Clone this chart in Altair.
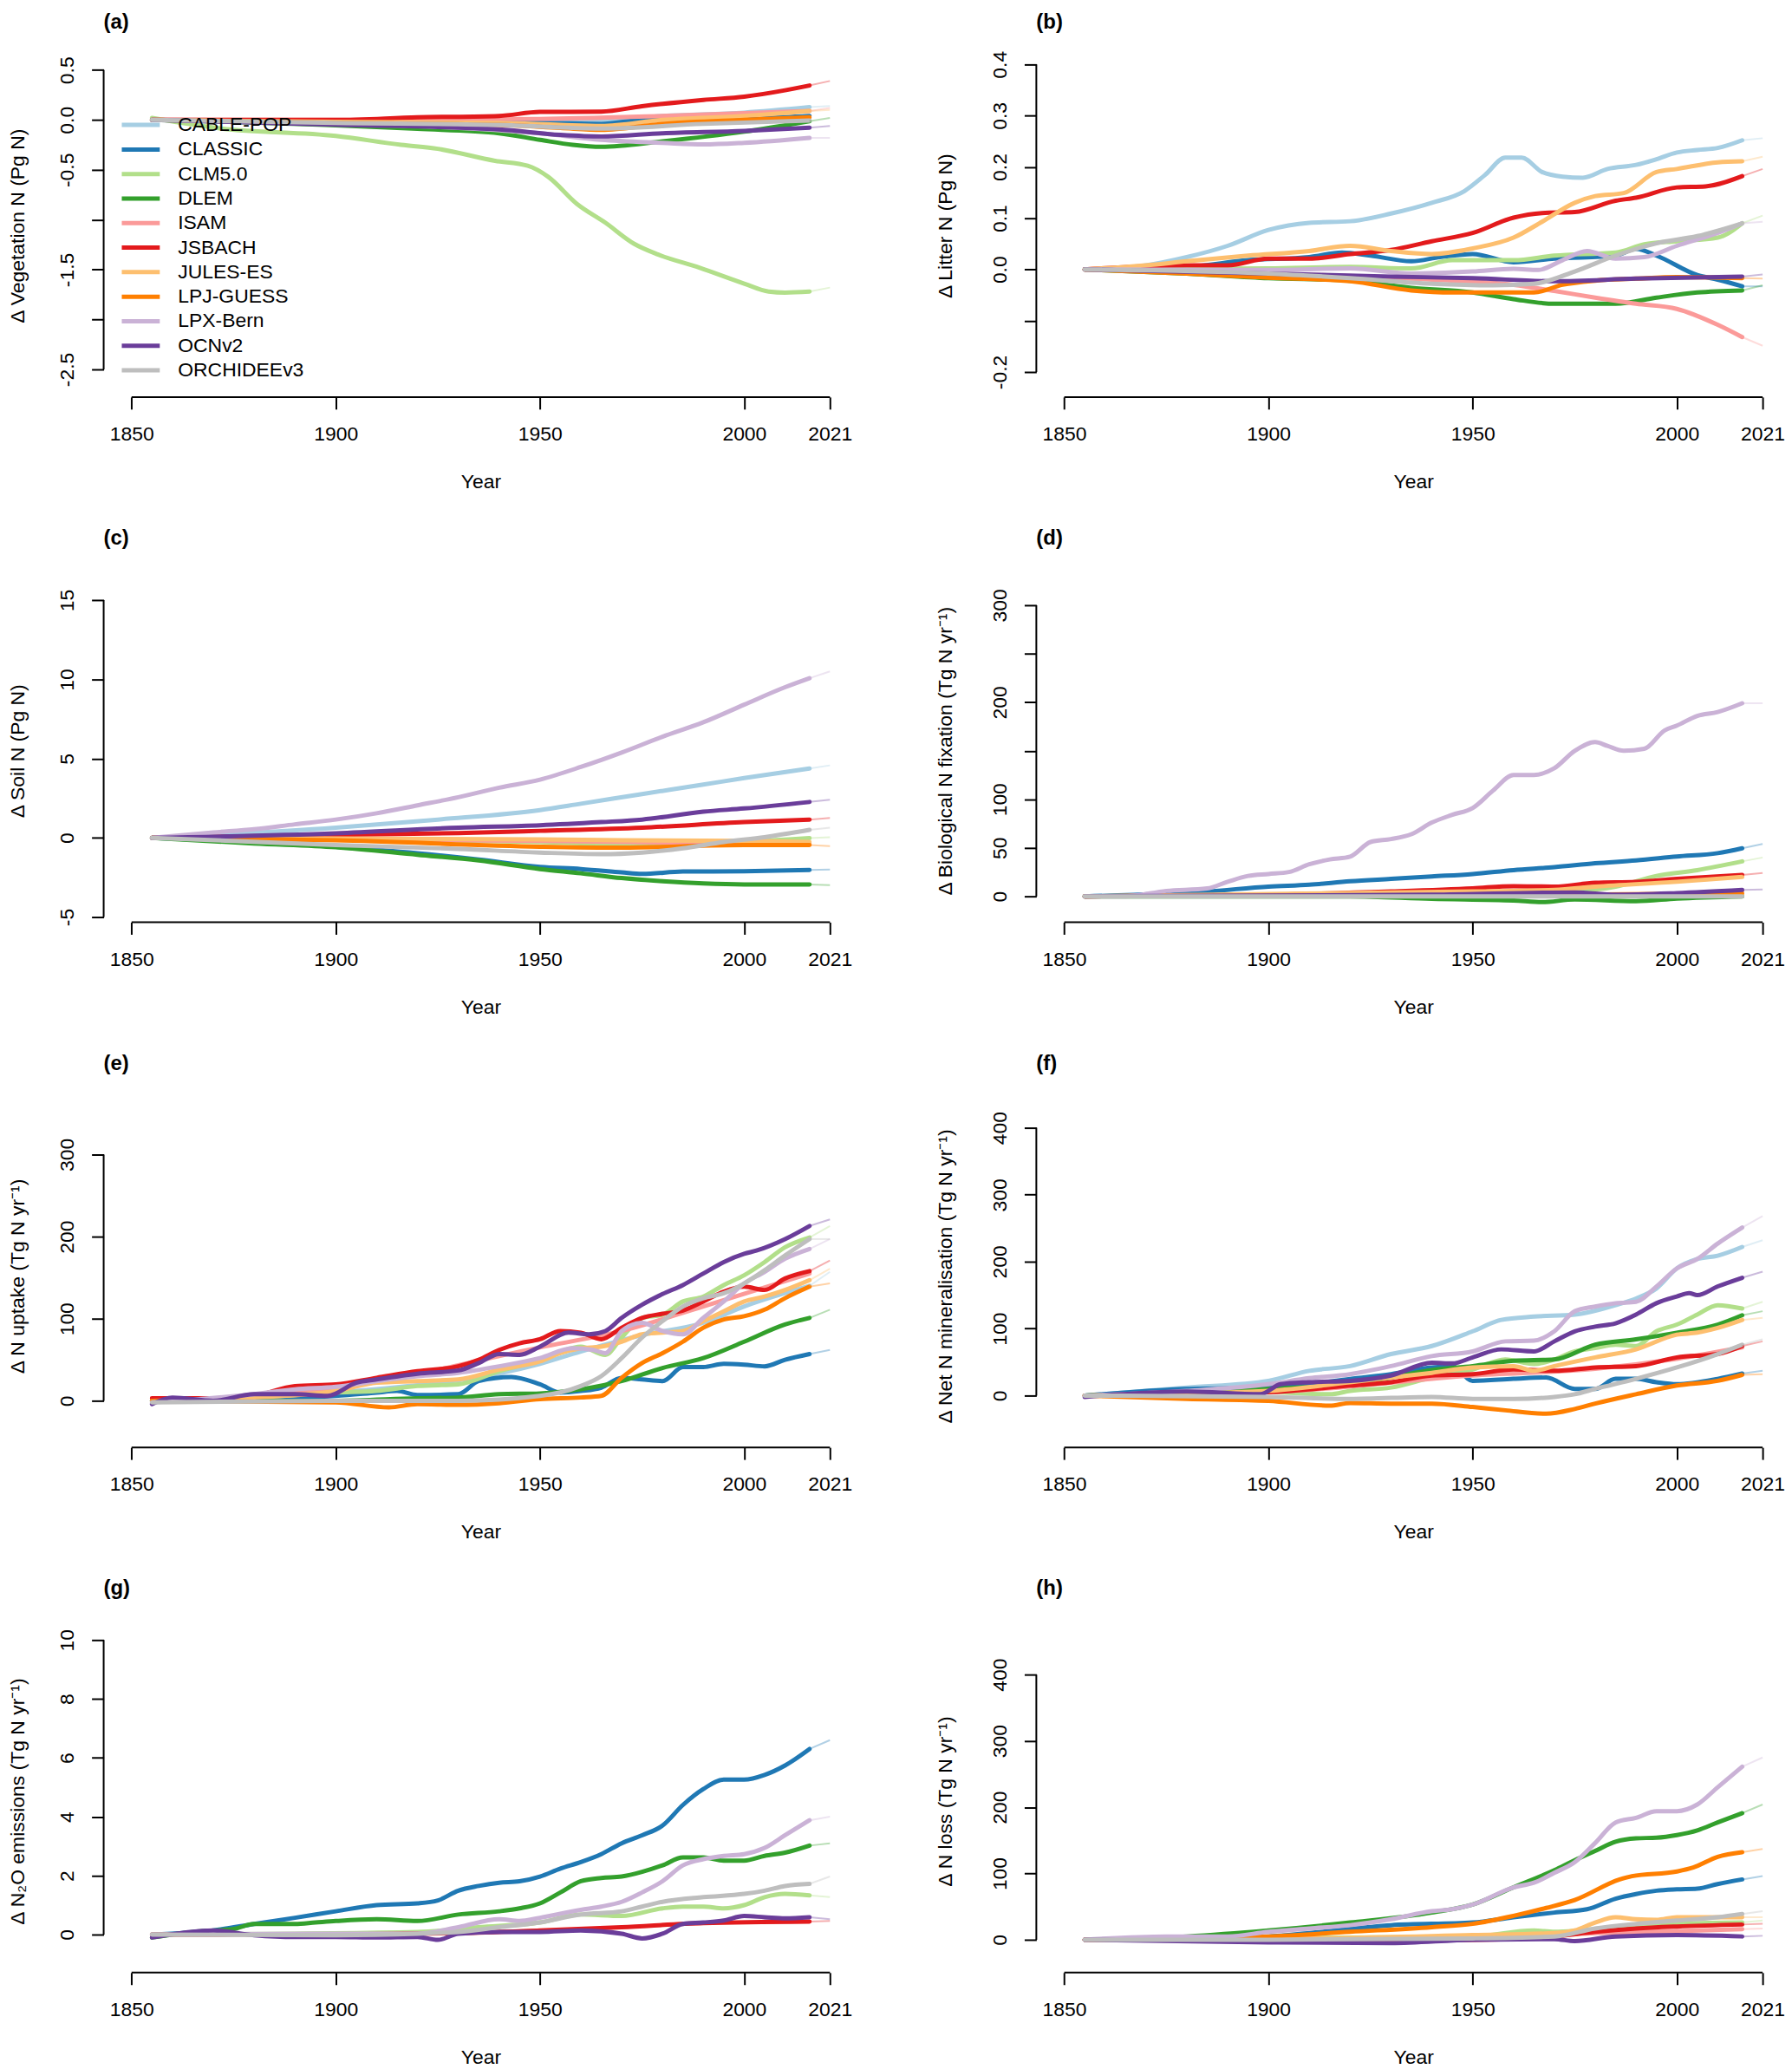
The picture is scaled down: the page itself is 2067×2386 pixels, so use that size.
import altair as alt
import pandas as pd

FONT = "Liberation Sans, Arial, Helvetica, sans-serif"

MODELS = ["CABLE-POP", "CLASSIC", "CLM5.0", "DLEM", "ISAM", "JSBACH",
          "JULES-ES", "LPJ-GUESS", "LPX-Bern", "OCNv2", "ORCHIDEEv3"]
COLORS = ["#A6CEE3", "#1F78B4", "#B2DF8A", "#33A02C", "#FB9A99", "#E31A1C",
          "#FDBF6F", "#FF7F00", "#CAB2D6", "#6A3D9A", "#BEBEBE"]

X_TICKS = [1850, 1900, 1950, 2000, 2021]

# ---------------- (a) Vegetation N (Pg N) ----------------
VEG_N = {
    "CABLE-POP": [(1855, 0), (1900, -0.01), (1930, -0.01), (1950, -0.01), (1965, -0.006), (1980, 0.04), (2000, 0.073), (2016, 0.128)],
    "CLASSIC": [(1855, 0), (1900, -0.02), (1930, -0.03), (1950, -0.03), (1965, -0.04), (1975, 0.0), (1990, 0.01), (2005, 0.02), (2016, 0.04)],
    "CLM5.0": [(1855, 0.02), (1872, -0.086), (1900, -0.16), (1916, -0.25), (1925, -0.29), (1939, -0.41), (1947, -0.46), (1952, -0.57), (1959, -0.84), (1966, -1.03), (1973, -1.24), (1979, -1.35), (1989, -1.48), (2000, -1.64), (2006, -1.72), (2010, -1.73), (2016, -1.72)],
    "DLEM": [(1855, 0), (1900, -0.054), (1920, -0.09), (1940, -0.134), (1950, -0.2), (1958, -0.25), (1965, -0.27), (1980, -0.214), (2000, -0.118), (2016, -0.013)],
    "ISAM": [(1855, 0), (1900, 0), (1950, 0.01), (1980, 0.04), (2016, 0.09)],
    "JSBACH": [(1855, 0), (1900, 0), (1920, 0.026), (1940, 0.04), (1950, 0.08), (1965, 0.083), (1975, 0.137), (1990, 0.2), (2000, 0.233), (2010, 0.297), (2016, 0.345)],
    "JULES-ES": [(1855, 0), (1900, -0.02), (1940, -0.03), (1955, -0.05), (1965, -0.06), (1980, 0.0), (2000, 0.04), (2016, 0.09)],
    "LPJ-GUESS": [(1855, 0), (1900, -0.03), (1940, -0.05), (1955, -0.08), (1965, -0.1), (1980, -0.04), (2000, 0.0), (2016, 0.026)],
    "LPX-Bern": [(1855, 0), (1900, -0.04), (1930, -0.08), (1950, -0.134), (1965, -0.2), (1980, -0.23), (1990, -0.246), (2000, -0.23), (2016, -0.18)],
    "OCNv2": [(1855, 0), (1900, -0.048), (1940, -0.096), (1955, -0.15), (1965, -0.166), (1980, -0.134), (2000, -0.11), (2016, -0.077)],
    "ORCHIDEEv3": [(1855, 0), (1900, -0.03), (1940, -0.05), (1965, -0.086), (1990, -0.04), (2016, -0.006)],
}
VEG_N_2021 = {"CABLE-POP": 0.14, "ISAM": 0.12, "JSBACH": 0.39, "JULES-ES": 0.1, "CLM5.0": -1.68,
              "LPX-Bern": -0.18, "OCNv2": -0.06, "DLEM": 0.02}

# ---------------- (b) Litter N (Pg N) ----------------
LITTER_N = {
    "CABLE-POP": [(1855, 0), (1870, 0.008), (1880, 0.024), (1890, 0.046), (1900, 0.077), (1910, 0.091), (1920, 0.094), (1930, 0.109), (1940, 0.13), (1948, 0.153), (1953, 0.184), (1958, 0.218), (1962, 0.218), (1967, 0.19), (1972, 0.181), (1977, 0.179), (1983, 0.196), (1990, 0.204), (1995, 0.215), (2000, 0.228), (2005, 0.233), (2010, 0.237), (2016, 0.252)],
    "CLASSIC": [(1855, 0), (1880, 0.005), (1895, 0.018), (1910, 0.024), (1918, 0.033), (1925, 0.027), (1935, 0.016), (1942, 0.024), (1950, 0.03), (1960, 0.014), (1970, 0.021), (1985, 0.027), (1990, 0.04), (1995, 0.027), (2005, -0.011), (2010, -0.02), (2016, -0.033)],
    "CLM5.0": [(1855, 0), (1900, 0.002), (1920, 0.005), (1935, 0.002), (1945, 0.018), (1960, 0.018), (1970, 0.027), (1985, 0.033), (1992, 0.049), (2000, 0.055), (2010, 0.062), (2016, 0.09)],
    "DLEM": [(1855, 0), (1880, -0.008), (1900, -0.017), (1920, -0.022), (1935, -0.036), (1950, -0.045), (1960, -0.058), (1970, -0.067), (1985, -0.067), (1995, -0.055), (2005, -0.045), (2016, -0.041)],
    "ISAM": [(1855, 0), (1900, -0.008), (1940, -0.02), (1960, -0.03), (1970, -0.042), (1980, -0.055), (1990, -0.067), (2000, -0.077), (2010, -0.108), (2016, -0.132)],
    "JSBACH": [(1855, 0), (1880, 0.008), (1890, 0.008), (1900, 0.021), (1910, 0.021), (1920, 0.03), (1930, 0.038), (1940, 0.055), (1950, 0.071), (1960, 0.101), (1967, 0.11), (1975, 0.112), (1985, 0.134), (1990, 0.14), (2000, 0.16), (2007, 0.162), (2016, 0.182)],
    "JULES-ES": [(1855, 0), (1870, 0.008), (1880, 0.016), (1895, 0.027), (1910, 0.036), (1920, 0.046), (1930, 0.036), (1940, 0.03), (1950, 0.041), (1960, 0.062), (1967, 0.093), (1975, 0.13), (1980, 0.143), (1987, 0.149), (1995, 0.19), (2000, 0.196), (2010, 0.209), (2016, 0.211)],
    "LPJ-GUESS": [(1855, 0), (1880, -0.008), (1900, -0.016), (1920, -0.023), (1935, -0.041), (1945, -0.045), (1955, -0.045), (1965, -0.045), (1972, -0.03), (1980, -0.022), (1990, -0.018), (2000, -0.015), (2016, -0.017)],
    "LPX-Bern": [(1855, 0), (1900, -0.001), (1920, 0.002), (1935, -0.008), (1950, -0.004), (1960, 0.001), (1966, -0.001), (1972, 0.018), (1978, 0.036), (1985, 0.021), (1992, 0.024), (2000, 0.046), (2010, 0.071), (2016, 0.09)],
    "OCNv2": [(1855, 0), (1900, -0.008), (1930, -0.014), (1950, -0.017), (1970, -0.023), (1990, -0.018), (2016, -0.014)],
    "ORCHIDEEv3": [(1855, 0), (1900, -0.008), (1920, -0.017), (1940, -0.028), (1955, -0.031), (1965, -0.028), (1975, -0.004), (1985, 0.027), (1995, 0.051), (2005, 0.065), (2016, 0.09)],
}
LITTER_N_2021 = {"CABLE-POP": 0.256, "JULES-ES": 0.22, "JSBACH": 0.196, "CLM5.0": 0.105, "LPX-Bern": 0.093,
                 "OCNv2": -0.01, "LPJ-GUESS": -0.018, "CLASSIC": -0.033, "DLEM": -0.031, "ISAM": -0.149}

# ---------------- (c) Soil N (Pg N) ----------------
SOIL_N = {
    "CABLE-POP": [(1855, 0), (1900, 0.64), (1925, 1.15), (1950, 1.75), (1960, 2.15), (1975, 2.76), (1990, 3.36), (2000, 3.77), (2016, 4.37)],
    "CLASSIC": [(1855, 0), (1900, -0.56), (1920, -0.97), (1935, -1.37), (1950, -1.83), (1960, -1.97), (1970, -2.18), (1975, -2.28), (1985, -2.13), (2000, -2.11), (2016, -2.03)],
    "CLM5.0": [(1855, 0), (1950, -0.26), (1970, -0.42), (1990, -0.36), (2016, -0.02)],
    "DLEM": [(1855, 0), (1880, -0.36), (1900, -0.6), (1920, -1.07), (1935, -1.43), (1950, -1.97), (1960, -2.24), (1970, -2.54), (1980, -2.74), (1990, -2.88), (2000, -2.94), (2016, -2.94)],
    "ISAM": [(1855, 0), (1950, -0.2), (2016, -0.4)],
    "JSBACH": [(1855, 0), (1900, 0.18), (1930, 0.3), (1950, 0.44), (1975, 0.64), (2000, 0.99), (2016, 1.15)],
    "JULES-ES": [(1855, 0), (1950, -0.1), (1970, -0.16), (2000, -0.2), (2016, -0.26)],
    "LPJ-GUESS": [(1855, 0), (1900, -0.16), (1950, -0.56), (1970, -0.62), (2000, -0.46), (2016, -0.46)],
    "LPX-Bern": [(1855, 0), (1870, 0.34), (1880, 0.54), (1890, 0.85), (1900, 1.15), (1910, 1.55), (1920, 2.05), (1930, 2.56), (1940, 3.16), (1950, 3.67), (1960, 4.47), (1970, 5.38), (1980, 6.38), (1990, 7.29), (2000, 8.4), (2010, 9.5), (2016, 10.07)],
    "OCNv2": [(1855, 0), (1900, 0.28), (1930, 0.64), (1950, 0.79), (1965, 0.99), (1975, 1.15), (1990, 1.65), (2000, 1.85), (2016, 2.26)],
    "ORCHIDEEv3": [(1855, 0), (1900, -0.46), (1930, -0.7), (1950, -0.93), (1965, -1.03), (1975, -0.93), (1985, -0.66), (1995, -0.26), (2005, 0.04), (2016, 0.5)],
}
SOIL_N_2021 = {"LPX-Bern": 10.5, "CABLE-POP": 4.57, "OCNv2": 2.4, "JSBACH": 1.25, "ORCHIDEEv3": 0.64,
               "CLM5.0": 0.04, "LPJ-GUESS": -0.52, "CLASSIC": -2.0, "DLEM": -2.98}

# ---------------- (d) Biological N fixation (Tg N/yr) ----------------
BNF = {
    "CLASSIC": [(1855, 0), (1885, 5), (1900, 10), (1910, 12), (1920, 15.5), (1930, 18), (1940, 20.5), (1950, 23), (1960, 27), (1970, 30), (1980, 34), (1990, 37), (2000, 41), (2010, 44.5), (2016, 49.5)],
    "CLM5.0": [(1855, 0), (1920, 2), (1960, 4), (1975, 5.6), (1985, 10), (1995, 21), (2005, 27), (2016, 36)],
    "DLEM": [(1855, 0), (1920, 0), (1940, -2.6), (1960, -4.3), (1967, -6), (1975, -3.3), (1990, -5), (2000, -2.3), (2016, 0)],
    "JSBACH": [(1855, 0), (1900, 1.6), (1930, 5), (1950, 8.2), (1960, 10.5), (1970, 10), (1980, 14), (1990, 15), (2000, 18), (2016, 22)],
    "JULES-ES": [(1855, 0), (1950, 5), (1970, 6.6), (1980, 10), (2000, 15), (2016, 20)],
    "LPJ-GUESS": [(1855, 0), (1950, 1), (2016, 3)],
    "LPX-Bern": [(1855, 0), (1865, 0), (1875, 5.6), (1885, 8.2), (1890, 15), (1895, 21), (1900, 23), (1905, 25), (1910, 33), (1915, 38), (1920, 41), (1925, 56), (1930, 59), (1935, 64), (1940, 76), (1945, 84), (1950, 91), (1955, 109), (1960, 125), (1965, 125), (1970, 132), (1975, 150), (1980, 159), (1983, 155), (1987, 150), (1992, 152), (1997, 171), (2000, 176), (2005, 186), (2010, 190), (2016, 199)],
    "OCNv2": [(1855, 0), (1940, 1.6), (1975, 4), (1985, 1.6), (2000, 3.3), (2016, 6.6)],
    "ORCHIDEEv3": [(1855, 0), (1950, 0), (2016, 0)],
}
BNF_2021 = {"CLASSIC": 54, "CLM5.0": 40, "JSBACH": 24, "LPX-Bern": 199, "OCNv2": 7}

# ---------------- (e) N uptake (Tg N/yr) ----------------
N_UPTAKE = {
    "CABLE-POP": [(1855, 0), (1900, 10), (1950, 45), (1960, 60), (1975, 80), (1990, 95), (2000, 115), (2016, 140)],
    "CLASSIC": [(1855, 0), (1900, 6), (1910, 10), (1915, 12), (1920, 7), (1930, 8), (1935, 24), (1943, 29), (1950, 20), (1955, 10), (1960, 12), (1965, 16), (1970, 28), (1975, 26), (1980, 24), (1985, 41), (1990, 41), (1995, 45), (2000, 44), (2005, 42), (2010, 50), (2016, 57)],
    "CLM5.0": [(1855, 0), (1880, 4), (1900, 10), (1910, 12), (1920, 18), (1930, 20), (1940, 36), (1950, 50), (1955, 60), (1960, 66), (1966, 56), (1970, 77), (1975, 101), (1980, 105), (1985, 121), (1990, 127), (1995, 141), (2000, 153), (2005, 169), (2010, 187), (2016, 199)],
    "DLEM": [(1855, 0), (1900, 0), (1920, 3), (1930, 4), (1940, 8), (1950, 9), (1960, 14), (1970, 24), (1980, 40), (1990, 52), (2000, 72), (2010, 93), (2016, 101)],
    "ISAM": [(1855, 0), (1900, 15), (1950, 65), (1970, 85), (1990, 115), (2016, 155)],
    "JSBACH": [(1855, 3), (1870, 3), (1880, 6), (1890, 18), (1900, 20), (1910, 28), (1920, 36), (1930, 42), (1935, 50), (1940, 62), (1945, 70), (1950, 75), (1955, 85), (1960, 83), (1965, 75), (1970, 89), (1975, 101), (1980, 106), (1985, 110), (1990, 121), (1995, 133), (2000, 139), (2005, 135), (2010, 149), (2016, 158)],
    "JULES-ES": [(1855, 0), (1880, 4), (1900, 12), (1910, 22), (1920, 24), (1930, 26), (1940, 38), (1950, 48), (1955, 58), (1960, 64), (1965, 66), (1970, 72), (1975, 81), (1980, 83), (1985, 85), (1990, 97), (1995, 109), (2000, 121), (2005, 127), (2010, 135), (2016, 147)],
    "LPJ-GUESS": [(1855, 0), (1900, -2), (1913, -8), (1920, -4), (1930, -5), (1940, -3), (1950, 2), (1960, 4), (1965, 6), (1970, 28), (1975, 46), (1980, 58), (1985, 72), (1990, 89), (1995, 99), (2000, 103), (2005, 111), (2010, 125), (2016, 139)],
    "LPX-Bern": [(1855, -2), (1880, 8), (1890, 14), (1900, 17), (1910, 24), (1920, 30), (1930, 34), (1940, 42), (1950, 52), (1958, 64), (1963, 62), (1966, 58), (1970, 85), (1975, 95), (1980, 85), (1985, 81), (1990, 101), (1995, 121), (2000, 143), (2005, 157), (2010, 173), (2016, 185)],
    "OCNv2": [(1855, -4), (1860, 4), (1870, 0), (1880, 8), (1890, 8), (1898, 6), (1905, 22), (1910, 26), (1920, 33), (1930, 37), (1935, 46), (1940, 57), (1945, 56), (1950, 66), (1957, 83), (1962, 81), (1966, 85), (1970, 101), (1975, 117), (1980, 130), (1985, 141), (1990, 155), (1995, 169), (2000, 179), (2003, 183), (2010, 197), (2016, 213)],
    "ORCHIDEEv3": [(1855, -2), (1900, 0), (1930, 0), (1950, 6), (1960, 18), (1965, 30), (1970, 52), (1975, 77), (1980, 97), (1985, 115), (1990, 125), (1995, 131), (2000, 143), (2005, 159), (2010, 177), (2016, 197)],
}
N_UPTAKE_2021 = {"OCNv2": 221, "CLM5.0": 213, "LPX-Bern": 197, "JSBACH": 171, "JULES-ES": 161,
                 "CABLE-POP": 157, "LPJ-GUESS": 143, "DLEM": 111, "CLASSIC": 62, "ORCHIDEEv3": 197}

# ---------------- (f) Net N mineralisation (Tg N/yr) ----------------
NET_MIN = {
    "CABLE-POP": [(1855, 0), (1880, 12), (1900, 22), (1910, 37), (1920, 44), (1930, 62), (1940, 74), (1950, 96), (1957, 113), (1965, 118), (1975, 121), (1985, 135), (1990, 145), (1995, 160), (2000, 190), (2005, 204), (2010, 209), (2016, 222)],
    "CLASSIC": [(1855, 0), (1880, 10), (1900, 12), (1910, 17), (1920, 25), (1930, 32), (1940, 42), (1945, 44), (1950, 22), (1960, 25), (1968, 27), (1975, 10), (1980, 10), (1985, 25), (1990, 25), (1995, 20), (2000, 17), (2010, 25), (2016, 33)],
    "CLM5.0": [(1855, 0), (1900, 5), (1915, 2), (1920, 7), (1930, 12), (1940, 27), (1950, 39), (1958, 54), (1965, 47), (1970, 54), (1975, 66), (1980, 71), (1985, 76), (1990, 74), (1995, 96), (2000, 106), (2005, 121), (2010, 135), (2016, 130)],
    "DLEM": [(1855, 0), (1900, 10), (1920, 17), (1930, 27), (1940, 38), (1950, 44), (1960, 52), (1970, 54), (1980, 76), (1990, 84), (2000, 94), (2010, 106), (2016, 120)],
    "ISAM": [(1855, 0), (1900, 5), (1950, 30), (1980, 40), (2000, 55), (2016, 72)],
    "JSBACH": [(1855, 0), (1900, 5), (1920, 15), (1930, 20), (1940, 30), (1950, 32), (1960, 39), (1970, 37), (1980, 42), (1990, 44), (2000, 57), (2010, 62), (2016, 74)],
    "JULES-ES": [(1855, 0), (1900, 7), (1920, 20), (1930, 27), (1940, 34), (1950, 42), (1960, 44), (1965, 37), (1970, 44), (1980, 57), (1990, 69), (2000, 91), (2005, 94), (2010, 101), (2016, 113)],
    "LPJ-GUESS": [(1855, 0), (1880, -5), (1900, -8), (1915, -15), (1920, -11), (1930, -12), (1940, -12), (1950, -17), (1958, -22), (1968, -27), (1975, -20), (1980, -12), (1990, 2), (2000, 15), (2010, 22), (2016, 31)],
    "LPX-Bern": [(1855, 0), (1880, 7), (1900, 17), (1910, 26), (1920, 32), (1930, 44), (1940, 59), (1950, 66), (1958, 81), (1965, 82), (1970, 96), (1975, 126), (1980, 133), (1985, 138), (1990, 140), (1995, 163), (2000, 190), (2005, 204), (2010, 227), (2016, 251)],
    "OCNv2": [(1855, -2), (1880, 6), (1898, 2), (1903, 17), (1910, 20), (1920, 22), (1930, 30), (1940, 49), (1945, 48), (1950, 57), (1957, 69), (1965, 66), (1970, 81), (1975, 96), (1980, 103), (1985, 108), (1990, 121), (1995, 138), (2000, 148), (2003, 153), (2005, 150), (2010, 163), (2016, 176)],
    "ORCHIDEEv3": [(1855, 0), (1900, -2), (1920, -5), (1940, -2), (1950, -5), (1960, -5), (1970, -2), (1975, 2), (1980, 10), (1990, 25), (2000, 42), (2010, 62), (2016, 76)],
}
NET_MIN_2021 = {"LPX-Bern": 268, "CABLE-POP": 232, "OCNv2": 185, "CLM5.0": 140, "DLEM": 126,
                "JULES-ES": 116, "JSBACH": 81, "ORCHIDEEv3": 84, "CLASSIC": 37, "LPJ-GUESS": 32}

# ---------------- (g) N2O emissions (Tg N/yr) ----------------
N2O = {
    "CLASSIC": [(1855, 0), (1870, 0.14), (1880, 0.36), (1890, 0.57), (1900, 0.79), (1910, 1.0), (1920, 1.06), (1925, 1.16), (1930, 1.49), (1935, 1.65), (1940, 1.76), (1945, 1.81), (1950, 1.97), (1955, 2.24), (1960, 2.46), (1965, 2.73), (1970, 3.1), (1975, 3.37), (1980, 3.7), (1985, 4.4), (1990, 4.94), (1995, 5.26), (2000, 5.26), (2005, 5.42), (2010, 5.74), (2016, 6.3)],
    "CLM5.0": [(1855, 0), (1920, 0.09), (1935, 0.25), (1950, 0.41), (1960, 0.68), (1970, 0.63), (1980, 0.89), (1985, 0.95), (1990, 0.95), (1995, 0.89), (2000, 1.0), (2005, 1.27), (2010, 1.38), (2016, 1.33)],
    "DLEM": [(1855, -0.1), (1865, 0.09), (1875, 0.19), (1880, 0.36), (1890, 0.36), (1895, 0.41), (1900, 0.46), (1910, 0.52), (1920, 0.46), (1930, 0.68), (1940, 0.79), (1945, 0.89), (1950, 1.06), (1955, 1.43), (1960, 1.81), (1965, 1.92), (1970, 1.97), (1975, 2.13), (1980, 2.35), (1985, 2.62), (1990, 2.62), (1995, 2.51), (2000, 2.51), (2005, 2.67), (2010, 2.78), (2016, 3.02)],
    "JSBACH": [(1855, 0), (1900, 0.01), (1930, 0.05), (1950, 0.14), (1970, 0.25), (1990, 0.39), (2016, 0.44)],
    "LPX-Bern": [(1855, 0), (1900, 0.03), (1920, 0.03), (1930, 0.25), (1940, 0.52), (1945, 0.46), (1950, 0.57), (1960, 0.84), (1965, 0.95), (1970, 1.11), (1975, 1.43), (1980, 1.81), (1985, 2.35), (1990, 2.56), (1995, 2.67), (2000, 2.73), (2005, 2.94), (2010, 3.37), (2016, 3.88)],
    "OCNv2": [(1855, -0.1), (1870, 0.14), (1880, -0.02), (1890, -0.08), (1900, -0.08), (1910, -0.1), (1920, -0.08), (1925, -0.18), (1930, 0.03), (1940, 0.09), (1950, 0.09), (1960, 0.14), (1970, 0.03), (1975, -0.13), (1980, 0.03), (1985, 0.36), (1990, 0.41), (1995, 0.48), (2000, 0.63), (2005, 0.59), (2010, 0.55), (2016, 0.59)],
    "ORCHIDEEv3": [(1855, 0), (1900, -0.02), (1920, 0.03), (1930, 0.09), (1940, 0.25), (1950, 0.41), (1960, 0.68), (1970, 0.79), (1975, 0.95), (1980, 1.11), (1990, 1.27), (2000, 1.38), (2005, 1.49), (2010, 1.65), (2016, 1.72)],
}
N2O_2021 = {"CLASSIC": 6.6, "LPX-Bern": 4.0, "DLEM": 3.1, "ORCHIDEEv3": 1.97, "CLM5.0": 1.27,
            "OCNv2": 0.52, "JSBACH": 0.46}

# ---------------- (h) N loss (Tg N/yr) ----------------
N_LOSS = {
    "CLASSIC": [(1855, 0), (1900, 5), (1910, 10), (1930, 22), (1950, 26), (1960, 34), (1970, 41), (1978, 46), (1985, 62), (1990, 69), (1995, 74), (2000, 76), (2005, 77), (2010, 84), (2016, 91)],
    "CLM5.0": [(1855, 0), (1950, 5), (1965, 14), (1970, 12), (1990, 22), (2016, 26)],
    "DLEM": [(1855, 0), (1880, 5), (1900, 14), (1920, 26), (1940, 41), (1950, 53), (1960, 79), (1970, 105), (1975, 120), (1980, 134), (1985, 148), (1990, 153), (1995, 154), (2000, 158), (2005, 165), (2010, 177), (2016, 191)],
    "ISAM": [(1855, 0), (1900, 2), (1950, 2), (1980, 10), (2000, 13), (2016, 16)],
    "JSBACH": [(1855, 0), (1950, 0), (1970, 5), (1980, 12), (1990, 17), (2000, 20), (2016, 23)],
    "JULES-ES": [(1855, 0), (1900, 1), (1950, 7), (1970, 10), (1975, 14), (1980, 26), (1985, 34), (1990, 31), (1995, 30), (2000, 34), (2005, 34), (2016, 34)],
    "LPJ-GUESS": [(1855, 0), (1900, 5), (1920, 12), (1940, 19), (1950, 24), (1960, 36), (1968, 48), (1975, 60), (1986, 91), (1989, 96), (2000, 103), (2004, 109), (2010, 125), (2016, 132)],
    "LPX-Bern": [(1855, 0), (1875, 5), (1890, 5), (1900, 12), (1910, 17), (1920, 22), (1930, 31), (1940, 43), (1945, 46), (1950, 53), (1960, 79), (1965, 86), (1970, 101), (1975, 117), (1980, 146), (1985, 177), (1990, 184), (1995, 194), (2000, 194), (2005, 204), (2010, 230), (2016, 261)],
    "OCNv2": [(1855, 0), (1900, -4), (1930, -5), (1950, 0), (1970, 1), (1975, -2), (1985, 5), (2000, 7), (2016, 5)],
    "ORCHIDEEv3": [(1855, 0), (1900, 0), (1950, 2), (1970, 5), (1980, 17), (1990, 24), (2000, 29), (2010, 34), (2016, 39)],
}
N_LOSS_2021 = {"LPX-Bern": 275, "DLEM": 204, "LPJ-GUESS": 137, "CLASSIC": 96, "JULES-ES": 34,
               "ORCHIDEEv3": 43, "ISAM": 17, "JSBACH": 24, "OCNv2": 6, "CLM5.0": 29}

W = 841
H = 397
XDOM = [1843.16, 2021]
TICK = 14


def to_df(d):
    rows = []
    for i, m in enumerate(MODELS):
        if m in d:
            for (yr, v) in d[m]:
                rows.append({"model": m, "year": yr, "value": v, "ord": i})
    return pd.DataFrame(rows)


def tail_df(d, tails):
    rows = []
    for i, m in enumerate(MODELS):
        if m in tails and m in d:
            yr, v = d[m][-1]
            rows.append({"model": m, "year": yr, "value": v, "ord": i})
            rows.append({"model": m, "year": 2021, "value": tails[m], "ord": i})
    return pd.DataFrame(rows)


def panel(d, tails, letter, ytitle, ydom, yticks, ylabels, title_x, title_off, legend=False):
    df = to_df(d)
    label_expr = ("[" + ",".join("'%s'" % s for s in ylabels) + "][indexof(["
                  + ",".join(repr(v) for v in yticks) + "], datum.value)]")
    xscale = alt.Scale(domain=XDOM, nice=False, zero=False)
    yscale = alt.Scale(domain=ydom, nice=False, zero=False)
    xaxis = alt.Axis(values=X_TICKS, title="Year", format="d", domain=False, grid=False,
                     tickSize=TICK, tickWidth=2, tickColor="black",
                     labelFont=FONT, labelFontSize=23, labelColor="black", labelAngle=0,
                     labelPadding=29, labelBaseline="middle", labelFlush=False, labelOverlap=False,
                     titleFont=FONT, titleFontSize=23, titleFontWeight="normal", titleColor="black",
                     titleX=436.5, titleY=98, titleBaseline="middle", titleAlign="center")
    yaxis = alt.Axis(values=yticks, labelExpr=label_expr, title=ytitle, domain=False, grid=False,
                     tickSize=TICK, tickWidth=2, tickColor="black",
                     labelFont=FONT, labelFontSize=23, labelColor="black", labelAngle=270,
                     labelAlign="center", labelBaseline="middle", labelPadding=28,
                     labelFlush=False, labelOverlap=False,
                     titleFont=FONT, titleFontSize=23, titleFontWeight="normal", titleColor="black",
                     titleAngle=270, titleX=title_x, titleBaseline="middle", titleAlign="center")
    if legend:
        leg = alt.Legend(orient="none", legendX=7.5, legendY=68.5, title=None,
                         symbolType="M0,0H4", symbolSize=484, symbolStrokeWidth=5,
                         symbolOpacity=1, labelFont=FONT, labelFontSize=23, labelColor="black",
                         labelOffset=51.5, rowPadding=2.4, padding=0, labelLimit=400)
    else:
        leg = None
    cscale = alt.Scale(domain=MODELS, range=COLORS)
    color = alt.Color("model:N", scale=cscale, sort=MODELS, legend=leg)

    raw = alt.Chart(tail_df(d, tails)).mark_line(strokeWidth=2, opacity=0.35).encode(
        x=alt.X("year:Q", scale=xscale, axis=xaxis),
        y=alt.Y("value:Q", scale=yscale, axis=yaxis),
        color=alt.Color("model:N", scale=cscale, sort=MODELS, legend=None),
        order=alt.Order("year:Q"),
    )
    lines = alt.Chart(df).mark_line(strokeWidth=5, interpolate="monotone",
                                    strokeCap="round", strokeJoin="round").encode(
        x=alt.X("year:Q", scale=xscale, axis=xaxis),
        y=alt.Y("value:Q", scale=yscale, axis=yaxis),
        color=color,
        order=alt.Order("year:Q"),
    )
    xline = alt.Chart(pd.DataFrame({"year": [X_TICKS[0]], "year2": [X_TICKS[-1]]})).mark_rule(
        color="black", strokeWidth=2).encode(
        x=alt.X("year:Q", scale=xscale, axis=xaxis), x2="year2:Q", y=alt.value(H))
    yline = alt.Chart(pd.DataFrame({"value": [min(yticks)], "value2": [max(yticks)]})).mark_rule(
        color="black", strokeWidth=2).encode(
        y=alt.Y("value:Q", scale=yscale, axis=yaxis), y2="value2:Q", x=alt.value(0))
    return alt.layer(lines, raw, xline, yline).properties(
        width=W, height=H,
        title=alt.TitleParams(letter, anchor="start", frame="group", orient="top", offset=title_off,
                              font=FONT, fontSize=24, fontWeight="bold", color="black",
                              baseline="middle"))


YR = " (Tg N yr\u207b\u00b9)"
pa = panel(VEG_N, VEG_N_2021, "(a)", "\u0394 Vegetation N (Pg N)", [-2.777, 0.659],
           [0.5, 0.0, -0.5, -1.0, -1.5, -2.0, -2.5], ["0.5", "0.0", "-0.5", "", "-1.5", "", "-2.5"],
           -99, 13, legend=True)
pb = panel(LITTER_N, LITTER_N_2021, "(b)", "\u0394 Litter N (Pg N)", [-0.249, 0.420],
           [0.4, 0.3, 0.2, 0.1, 0.0, -0.1, -0.2], ["0.4", "0.3", "0.2", "0.1", "0.0", "", "-0.2"],
           -105, 8)
pc = panel(SOIL_N, SOIL_N_2021, "(c)", "\u0394 Soil N (Pg N)", [-5.327, 16.31],
           [15, 10, 5, 0, -5], ["15", "10", "5", "0", "-5"], -99, 23)
pd_ = panel(BNF, BNF_2021, "(d)", "\u0394 Biological N fixation" + YR, [-26.7, 326.7],
            [300, 250, 200, 150, 100, 50, 0], ["300", "", "200", "", "100", "50", "0"], -105, 23)
pe = panel(N_UPTAKE, N_UPTAKE_2021, "(e)", "\u0394 N uptake" + YR, [-56.8, 361],
           [300, 200, 100, 0], ["300", "200", "100", "0"], -99, 23)
pf = panel(NET_MIN, NET_MIN_2021, "(f)", "\u0394 Net N mineralisation" + YR, [-77.4, 434.8],
           [400, 300, 200, 100, 0], ["400", "300", "200", "100", "0"], -105, 23)
pg = panel(N2O, N2O_2021, "(g)", "\u0394 N\u2082O emissions" + YR, [-1.29, 10.35],
           [10, 8, 6, 4, 2, 0], ["10", "8", "6", "4", "2", "0"], -99, 23)
ph = panel(N_LOSS, N_LOSS_2021, "(h)", "\u0394 N loss" + YR, [-49.5, 467.8],
           [400, 300, 200, 100, 0], ["400", "300", "200", "100", "0"], -105, 23)

chart = (alt.concat(pa, pb, pc, pd_, pe, pf, pg, ph, columns=2,
                    spacing={"row": 211, "column": 239}, bounds="flush")
         .resolve_scale(color="independent").resolve_legend(color="independent")
         .properties(padding={"left": 2, "top": 1, "right": 0, "bottom": 0},
                     background="white")
         .configure_view(stroke=None))

chart.save("out.html", embed_options={"renderer": "svg", "actions": False})
